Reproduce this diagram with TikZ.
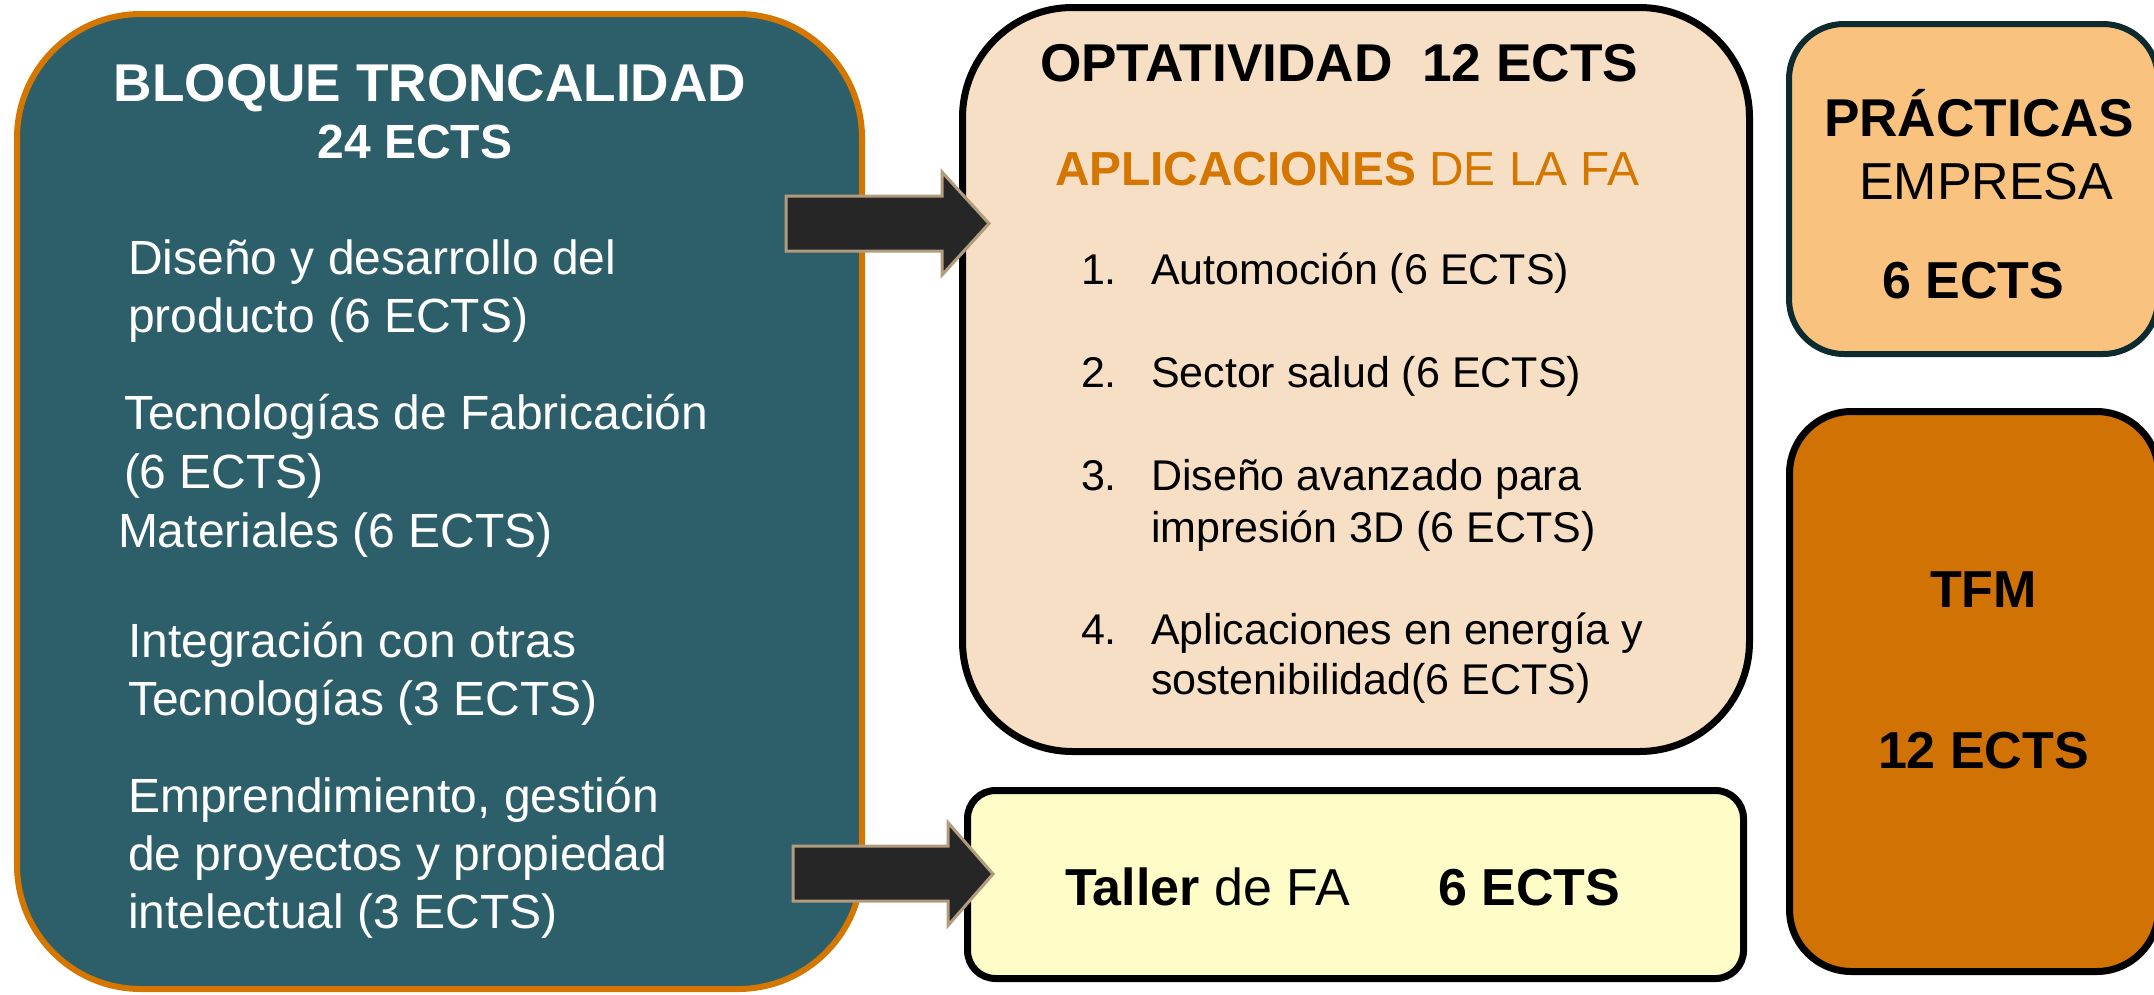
\documentclass[tikz,border=0pt]{standalone}
\usepackage{fontspec}
\setmainfont{Liberation Sans}
\usetikzlibrary{calc}
\definecolor{teal}{HTML}{2C5F6A}
\definecolor{borange}{HTML}{D47600}
\definecolor{peach}{HTML}{F6DFC4}
\definecolor{lyellow}{HTML}{FFFDC7}
\definecolor{pract}{HTML}{F9C27F}
\definecolor{practb}{HTML}{0D2B2E}
\definecolor{tfm}{HTML}{D07304}
\definecolor{arrfill}{HTML}{262626}
\definecolor{arrborder}{HTML}{B19C7E}
\newcommand{\bodyfont}{\fontsize{48pt}{58pt}\selectfont}
\newcommand{\listfont}{\fontsize{43pt}{52pt}\selectfont}
\newcommand{\headfont}{\fontsize{52pt}{62pt}\selectfont}
\newcommand{\titlefont}{\fontsize{53.2pt}{62pt}\selectfont}
\begin{document}
\begin{tikzpicture}[x=1pt,y=-1pt,
  panel/.style={anchor=north west, inner sep=0pt, outer sep=0pt},
  txt/.style={anchor=base west, inner sep=0pt, outer sep=0pt},
  blockarrow/.style={fill=arrfill, draw=arrborder, line width=3pt, line join=miter}]
\useasboundingbox (0,0) rectangle (2154,994);
% panels
\node[panel, draw=borange, fill=teal, line width=6pt, rounded corners=124pt,
  minimum width=845pt, minimum height=975pt] (left) at (17,14) {};
\node[panel, draw=black, fill=peach, line width=7pt, rounded corners=110pt,
  minimum width=787pt, minimum height=744pt] (opt) at (962.5,7.5) {};
\node[panel, draw=black, fill=lyellow, line width=7pt, rounded corners=28pt,
  minimum width=776pt, minimum height=188pt] (taller) at (967.5,790.5) {};
\node[panel, draw=practb, fill=pract, line width=6pt, rounded corners=55pt,
  minimum width=369pt, minimum height=330pt] (pr) at (1789,24) {};
\node[panel, draw=black, fill=tfm, line width=7pt, rounded corners=62pt,
  minimum width=369pt, minimum height=560pt] (tf) at (1789.5,411.5) {};
% left texts
\node[anchor=base, inner sep=0pt, text=white] (lt1) at (430,101) {\titlefont\bfseries BLOQUE TRONCALIDAD};
\node[anchor=base, inner sep=0pt, text=white] (lt2) at (415,158) {\fontsize{48pt}{58pt}\selectfont\bfseries 24 ECTS};
\begin{scope}[every node/.append style={text=white}]
\node[txt] (l1) at (128,274) {\bodyfont Diseño y desarrollo del};
\node[txt] (l2) at (128,332) {\bodyfont producto (6 ECTS)};
\node[txt] (l3) at (124,429) {\bodyfont Tecnologías de Fabricación};
\node[txt] (l4) at (124,488) {\bodyfont (6 ECTS)};
\node[txt] (l5) at (118,547) {\bodyfont Materiales (6 ECTS)};
\node[txt] (l6) at (128,657) {\bodyfont Integración con otras};
\node[txt] (l7) at (128,715) {\bodyfont Tecnologías (3 ECTS)};
\node[txt] (l8) at (128,812) {\bodyfont Emprendimiento, gestión};
\node[txt] (l9) at (128,870) {\bodyfont de proyectos y propiedad};
\node[txt] (l10) at (128,928) {\bodyfont intelectual (3 ECTS)};
\end{scope}
% optatividad texts
\node[txt] (o1) at (1040,81) {\titlefont\bfseries OPTATIVIDAD\ \ 12 ECTS};
\node[txt, text=borange] (o2) at (1055,185) {\fontsize{47.8pt}{58pt}\selectfont\textbf{APLICACIONES} DE LA FA};
\node[txt] (n1) at (1081,284) {\listfont 1.};
\node[txt] (i1) at (1151,284) {\listfont Automoción (6 ECTS)};
\node[txt] (n2) at (1081,387) {\listfont 2.};
\node[txt] (i2) at (1151,387) {\listfont Sector salud (6 ECTS)};
\node[txt] (n3) at (1081,490) {\listfont 3.};
\node[txt] (i3a) at (1151,490) {\listfont Diseño avanzado para};
\node[txt] (i3b) at (1151,542) {\listfont impresión 3D (6 ECTS)};
\node[txt] (n4) at (1081,644) {\listfont 4.};
\node[txt] (i4a) at (1151,644) {\listfont Aplicaciones en energía y};
\node[txt] (i4b) at (1151,694) {\listfont sostenibilidad(6 ECTS)};
% taller
\node[txt] (ta1) at (1065,905) {\headfont\textbf{Taller} de FA};
\node[txt] (ta2) at (1438,905) {\headfont\bfseries 6 ECTS};
% practicas
\node[txt] (p1) at (1824,136) {\titlefont\bfseries PRÁCTICAS};
\node[txt] (p2) at (1859,199) {\headfont EMPRESA};
\node[txt] (p3) at (1882,298) {\headfont\bfseries 6 ECTS};
% tfm
\node[txt] (t1) at (1930,607) {\headfont\bfseries TFM};
\node[txt] (t2) at (1878,768) {\headfont\bfseries 12 ECTS};
% block arrows
\coordinate (tip1) at (989,223.5);
\coordinate (tip2) at (993,874);
\draw[blockarrow] (tip1) -- ++(-47,-51.5) -- ++(0,24) -- ++(-156,0) -- ++(0,55)
  -- ++(156,0) -- ++(0,24) -- cycle;
\draw[blockarrow] (tip2) -- ++(-45,-51.5) -- ++(0,23.5) -- ++(-155,0) -- ++(0,55)
  -- ++(155,0) -- ++(0,24.5) -- cycle;
\end{tikzpicture}
\end{document}
